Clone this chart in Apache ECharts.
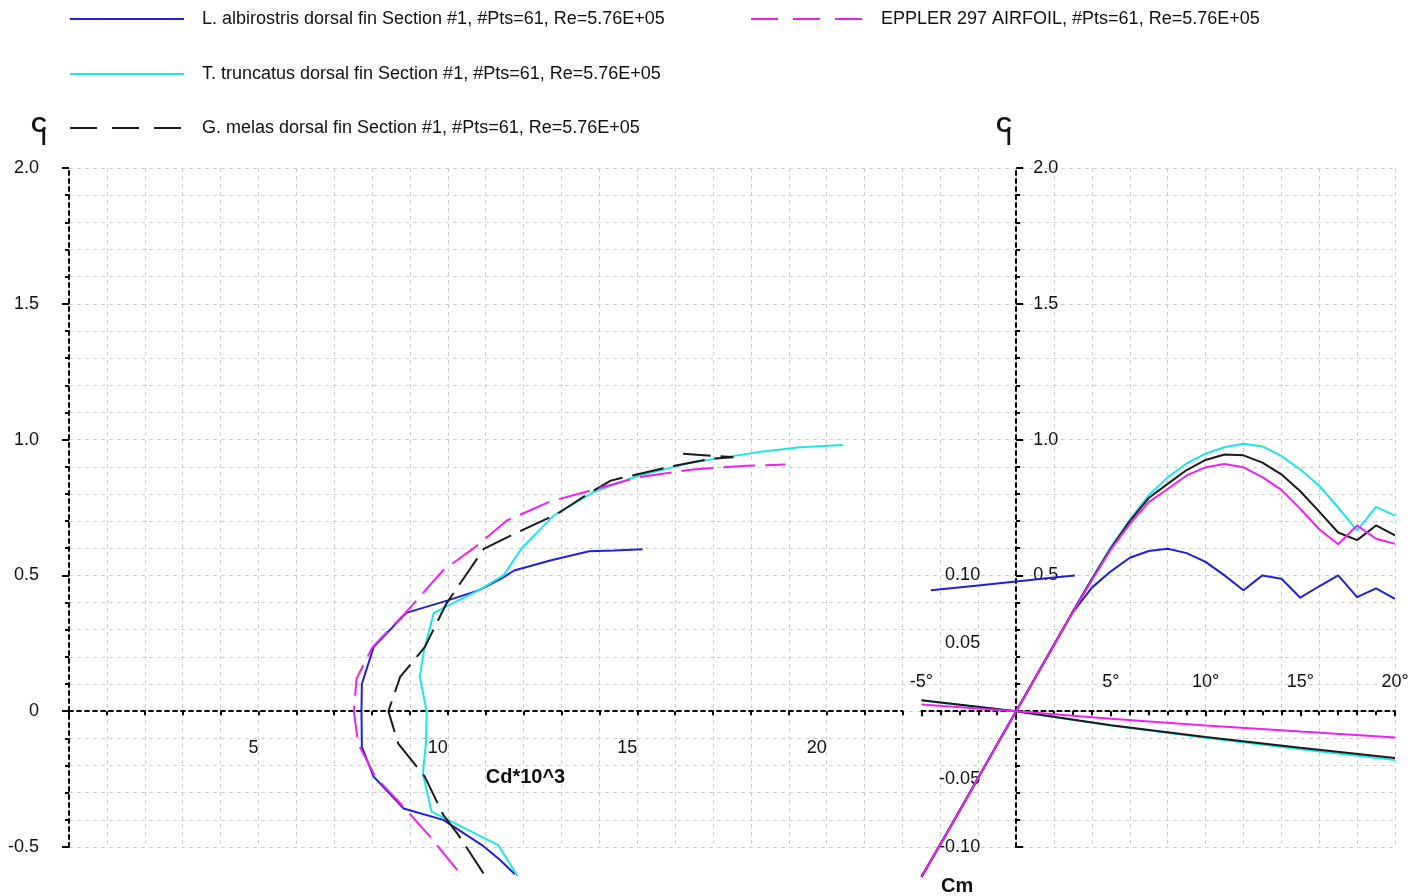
<!DOCTYPE html>
<html>
<head>
<meta charset="utf-8">
<script src="https://cdn.jsdelivr.net/npm/echarts@6/dist/echarts.min.js"></script>
<style>
  html, body { margin: 0; padding: 0; background: #ffffff; }
  #chart { width: 1410px; height: 896px; }
</style>
</head>
<body>
<div id="chart"></div>
<script>
// ---------- series names ----------
const NAME_ALB = 'L. albirostris dorsal fin Section #1, #Pts=61, Re=5.76E+05';
const NAME_TRU = 'T. truncatus dorsal fin Section #1, #Pts=61, Re=5.76E+05';
const NAME_GME = 'G. melas dorsal fin Section #1, #Pts=61, Re=5.76E+05';
const NAME_EPP = 'EPPLER 297 AIRFOIL, #Pts=61, Re=5.76E+05';

// ---------- drag polars: [Cd*10^3, Cl] ----------
const albirostrisPolar = [[11.77,-0.600],[11.38,-0.548],[10.90,-0.493],[9.88,-0.400],[8.83,-0.358],[8.04,-0.241],[7.73,-0.131],[7.72,0.000],[7.73,0.100],[8.04,0.236],[8.90,0.362],[10.00,0.408],[10.81,0.445],[11.41,0.488],[11.75,0.518],[12.70,0.555],[13.73,0.589],[14.39,0.592],[15.14,0.596]];
const truncatusPolar = [[11.84,-0.607],[11.33,-0.493],[9.57,-0.370],[9.34,-0.229],[9.42,-0.120],[9.44,0.000],[9.26,0.126],[9.37,0.224],[9.63,0.362],[10.81,0.445],[11.47,0.500],[11.94,0.598],[12.79,0.720],[13.83,0.806],[15.05,0.868],[16.47,0.917],[18.16,0.953],[19.29,0.972],[20.43,0.980]];
const gmelasPolar = [[10.94,-0.597],[10.28,-0.456],[9.88,-0.382],[9.39,-0.241],[8.69,-0.119],[8.43,0.000],[8.74,0.126],[9.39,0.236],[9.96,0.396],[10.95,0.598],[11.75,0.653],[12.88,0.726],[13.63,0.794],[14.30,0.849],[14.87,0.868],[15.99,0.904],[16.94,0.929],[17.54,0.935],[16.21,0.948]];
const epplerPolar = [[10.25,-0.585],[9.53,-0.462],[8.87,-0.358],[8.08,-0.241],[7.63,-0.119],[7.52,0.000],[7.59,0.120],[8.01,0.236],[8.88,0.362],[9.87,0.518],[10.72,0.604],[11.56,0.702],[12.70,0.772],[13.83,0.815],[15.05,0.862],[16.47,0.890],[17.88,0.904],[18.91,0.908]];

// ---------- lift curves: Cl vs angle of attack ----------
const alphaDeg = [-5,-4,-3,-2,-1,0,1,2,3,4,5,6,7,8,9,10,11,12,13,14,15,16,17,18,19,20];
const albirostrisCl = [-0.61,-0.49,-0.368,-0.245,-0.122,0,0.122,0.245,0.365,0.455,0.515,0.565,0.59,0.598,0.582,0.55,0.50,0.445,0.50,0.488,0.418,0.46,0.50,0.42,0.452,0.414];
const truncatusCl = [-0.61,-0.49,-0.368,-0.245,-0.122,0,0.122,0.245,0.368,0.488,0.605,0.705,0.795,0.861,0.912,0.948,0.972,0.985,0.975,0.94,0.89,0.83,0.75,0.665,0.752,0.72];
const gmelasCl = [-0.61,-0.49,-0.368,-0.245,-0.122,0,0.122,0.245,0.368,0.487,0.60,0.70,0.785,0.837,0.888,0.925,0.945,0.942,0.915,0.872,0.81,0.735,0.658,0.63,0.684,0.647];
const epplerCl = [-0.61,-0.49,-0.368,-0.245,-0.122,0,0.122,0.245,0.366,0.482,0.595,0.69,0.77,0.818,0.868,0.898,0.91,0.898,0.862,0.815,0.745,0.67,0.615,0.684,0.635,0.616];

// ---------- pitching moment: Cm vs angle of attack ----------
const cmAlpha = [-5,0,5,10,15,20];
const truncatusCm = [0.0078,0,-0.0105,-0.0195,-0.028,-0.036];
const gmelasCm = [0.0081,0,-0.0103,-0.019,-0.027,-0.0345];
const epplerCm = [0.0049,0,-0.0055,-0.0105,-0.015,-0.0193];
const albirostrisCmAlpha = [-4.5,-2,0,2,3.1];
const albirostrisCm = [0.089,0.0926,0.0955,0.0984,0.1];

// ---------- colours ----------
const C_BLUE = '#1f1fe0';
const C_CYAN = '#22e4e4';
const C_BLACK = '#1a1a1a';
const C_MAGENTA = '#ee22ee';

// ---------- layout ----------
const X0 = 69;                      // left edge of the plotting area
const CELL = (1395 - X0) / 35;      // one grid cell: 1 unit of Cd*10^3, 2 degrees of alpha
const TOP = 168, BOTTOM = 847;
const ZERO_SHIFT = -(BOTTOM - TOP) * 0.5 / 2.5;   // Cl = 0 sits 0.5/2.5 of the height above the bottom
const FONT = "'Liberation Sans', Arial, sans-serif";
const NARROW = "'Liberation Sans Narrow', 'Liberation Sans', Arial, sans-serif";
const LABEL = { fontFamily: FONT, fontSize: 18, color: '#111' };
const AXIS_LINE = { color: '#000', width: 2, type: [4, 4] };
const TICK = { color: '#000', width: 2 };

const pairs = (xs, ys) => xs.map((x, i) => [x, ys[i]]);

const chart = echarts.init(document.getElementById('chart'), null, { renderer: 'canvas' });

function polarSeries(name, data, color, dashed) {
  return {
    name, type: 'line', xAxisIndex: 1, yAxisIndex: 1, data,
    symbol: 'none', clip: false, silent: true,
    lineStyle: { color, width: 2, type: dashed ? [32, 10] : 'solid' },
    itemStyle: { color }
  };
}
function alphaSeries(name, data, color, yIndex) {
  return {
    name, type: 'line', xAxisIndex: 2, yAxisIndex: yIndex, data,
    symbol: 'none', clip: false, silent: true,
    lineStyle: { color, width: 2 },
    itemStyle: { color }
  };
}

const legendBase = {
  orient: 'vertical', selectedMode: false, padding: 0,
  itemWidth: 114, itemHeight: 20, itemGap: 37,
  itemStyle: { opacity: 0 },
  textStyle: Object.assign({}, LABEL, { padding: [0, 0, 0, 13] })
};

const option = {
  animation: false,
  backgroundColor: '#ffffff',
  textStyle: { fontFamily: FONT },
  legend: [
    Object.assign({}, legendBase, { data: [NAME_ALB, NAME_TRU], left: X0, top: 10 }),
    Object.assign({}, legendBase, { data: [NAME_GME], left: X0, top: 119, lineStyle: { type: [27, 15] } }),
    Object.assign({}, legendBase, { data: [NAME_EPP], left: 750, top: 10, itemWidth: 112, lineStyle: { type: [27, 15] } })
  ],
  grid: [
    { left: X0, top: TOP, width: 35 * CELL, height: BOTTOM - TOP, containLabel: false, outerBoundsMode: 'none' },
    { left: X0, top: TOP, width: 22 * CELL, height: BOTTOM - TOP, containLabel: false, outerBoundsMode: 'none' },
    { left: X0 + 22.5 * CELL, top: TOP, width: 12.5 * CELL, height: BOTTOM - TOP, containLabel: false, outerBoundsMode: 'none' }
  ],
  xAxis: [
    { // background lattice
      gridIndex: 0, type: 'value', min: 0, max: 35, interval: 1,
      axisLine: { show: false }, axisTick: { show: false }, axisLabel: { show: false },
      splitLine: { show: true, lineStyle: { color: '#cfcfcf', width: 1, type: [4, 4] } }
    },
    { // drag coefficient, drawn along Cl = 0
      gridIndex: 1, type: 'value', min: 0, max: 22, interval: 1,
      position: 'bottom', offset: ZERO_SHIFT,
      axisLine: { onZero: false, lineStyle: AXIS_LINE },
      axisTick: { show: true, length: 4, lineStyle: TICK },
      axisLabel: Object.assign({}, LABEL, { margin: 28, align: 'right', formatter: v => (v > 0 && v % 5 === 0) ? String(v) : '' }),
      splitLine: { show: false },
      name: 'Cd*10^3', nameLocation: 'middle', nameGap: 56,
      nameTextStyle: { fontFamily: FONT, fontSize: 20, fontWeight: 'bold', color: '#111', align: 'left' }
    },
    { // angle of attack, drawn along Cl = 0
      gridIndex: 2, type: 'value', min: -5, max: 20, interval: 5,
      position: 'bottom', offset: ZERO_SHIFT,
      axisLine: { onZero: false, lineStyle: AXIS_LINE },
      axisTick: { show: true, length: 5, lineStyle: TICK },
      minorTick: { show: true, splitNumber: 5, length: 4, lineStyle: TICK },
      axisLabel: Object.assign({}, LABEL, { inside: true, margin: 20, formatter: v => v === 0 ? '' : v + '°' }),
      splitLine: { show: false }
    }
  ],
  yAxis: [
    { // background lattice
      gridIndex: 0, type: 'value', min: -0.5, max: 2.0, interval: 0.1,
      axisLine: { show: false }, axisTick: { show: false }, axisLabel: { show: false },
      splitLine: { show: true, lineStyle: { color: '#cfcfcf', width: 1, type: [4, 4] } }
    },
    { // Cl, polar panel
      gridIndex: 1, type: 'value', min: -0.5, max: 2.0, interval: 0.5,
      position: 'left',
      axisLine: { onZero: false, lineStyle: AXIS_LINE },
      axisTick: { show: true, length: 7, lineStyle: TICK },
      minorTick: { show: true, splitNumber: 5, length: 4, lineStyle: TICK },
      axisLabel: Object.assign({}, LABEL, { margin: 30, formatter: v => Math.abs(v) < 1e-9 ? '0' : v.toFixed(1) }),
      splitLine: { show: false }
    },
    { // Cl, lift panel, drawn along alpha = 0
      gridIndex: 2, type: 'value', min: -0.5, max: 2.0, interval: 0.5,
      position: 'left', offset: -2.5 * CELL,
      axisLine: { onZero: false, lineStyle: AXIS_LINE },
      axisTick: { show: true, inside: true, length: 7, lineStyle: TICK },
      minorTick: { show: true, splitNumber: 5, length: 4, lineStyle: TICK },
      axisLabel: Object.assign({}, LABEL, { inside: true, margin: 17, formatter: v => v > 0.01 ? v.toFixed(1) : '' }),
      splitLine: { show: false }
    },
    { // Cm, lift panel (0.1 Cm per 0.5 Cl)
      gridIndex: 2, type: 'value', min: -0.1, max: 0.4, interval: 0.05,
      position: 'left', offset: -2.5 * CELL,
      axisLine: { show: false, onZero: false },
      axisTick: { show: false },
      axisLabel: Object.assign({}, LABEL, { margin: 36, formatter: v => (Math.abs(v) > 1e-6 && Math.abs(v) < 0.1001) ? v.toFixed(2) : '' }),
      splitLine: { show: false }
    }
  ],
  graphic: [
    { type: 'text', x: 31, y: 126, style: { text: 'C', font: 'bold 22px ' + NARROW, fill: '#111', align: 'left', verticalAlign: 'middle' } },
    { type: 'text', x: 41, y: 139, style: { text: 'l', font: 'bold 20px ' + NARROW, fill: '#111', align: 'left', verticalAlign: 'middle' } },
    { type: 'text', x: 996, y: 126, style: { text: 'C', font: 'bold 22px ' + NARROW, fill: '#111', align: 'left', verticalAlign: 'middle' } },
    { type: 'text', x: 1006, y: 139, style: { text: 'l', font: 'bold 20px ' + NARROW, fill: '#111', align: 'left', verticalAlign: 'middle' } },
    { type: 'text', x: 941, y: 886, style: { text: 'Cm', font: 'bold 20px ' + NARROW, fill: '#111', align: 'left', verticalAlign: 'middle' } }
  ],
  series: [
    polarSeries(NAME_ALB, albirostrisPolar, C_BLUE, false),
    polarSeries(NAME_TRU, truncatusPolar, C_CYAN, false),
    polarSeries(NAME_GME, gmelasPolar, C_BLACK, true),
    polarSeries(NAME_EPP, epplerPolar, C_MAGENTA, true),

    alphaSeries(NAME_TRU, pairs(alphaDeg, truncatusCl), C_CYAN, 2),
    alphaSeries(NAME_ALB, pairs(alphaDeg, albirostrisCl), C_BLUE, 2),
    alphaSeries(NAME_GME, pairs(alphaDeg, gmelasCl), C_BLACK, 2),
    alphaSeries(NAME_EPP, pairs(alphaDeg, epplerCl), C_MAGENTA, 2),

    alphaSeries(NAME_TRU, pairs(cmAlpha, truncatusCm), C_CYAN, 3),
    alphaSeries(NAME_GME, pairs(cmAlpha, gmelasCm), C_BLACK, 3),
    alphaSeries(NAME_EPP, pairs(cmAlpha, epplerCm), C_MAGENTA, 3),
    alphaSeries(NAME_ALB, pairs(albirostrisCmAlpha, albirostrisCm), C_BLUE, 3)
  ]
};

chart.setOption(option);
</script>
</body>
</html>
